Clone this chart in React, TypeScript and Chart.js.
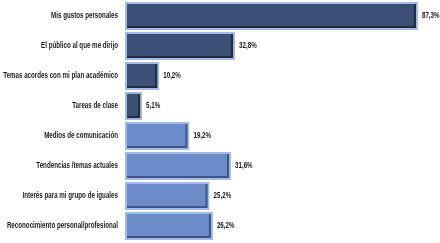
import React, { useEffect, useRef } from "react";
import { Chart, registerables } from "chart.js";

Chart.register(...registerables);

const categories = [
  "Mis gustos personales",
  "El público al que me dirijo",
  "Temas acordes con mi plan académico",
  "Tareas de clase",
  "Medios de comunicación",
  "Tendencias /temas actuales",
  "Interés para mi grupo de iguales",
  "Reconocimiento personal/profesional",
];
const values = [87.3, 32.8, 10.2, 5.1, 19.2, 31.6, 25.2, 26.2];
const barColors = ["#3c4f74", "#3c4f74", "#3c4f74", "#3c4f74", "#6b8cc9", "#6b8cc9", "#6b8cc9", "#6b8cc9"];
const shadeColors = ["#1f2c44", "#1f2c44", "#1f2c44", "#1f2c44", "#3d5587", "#3d5587", "#3d5587", "#3d5587"];
const borderColors = ["#a3bbe4", "#a3bbe4", "#a3bbe4", "#a3bbe4", "#a3bbe4", "#a3bbe4", "#a3bbe4", "#a3bbe4"];

const FONT = "'Liberation Sans', Arial, sans-serif";
const SQUEEZE = 0.69;

const labelPlugin = {
  id: "barLabels",
  afterDatasetsDraw(chart: any) {
    const ctx = chart.ctx;
    const meta = chart.getDatasetMeta(0);
    const yScale = chart.scales.y;
    ctx.save();
    // bevel shading inside each bar
    meta.data.forEach((el: any, i: number) => {
      const left = el.base;
      const right = el.x;
      const top = el.y - el.height / 2;
      const bottom = el.y + el.height / 2;
      ctx.strokeStyle = shadeColors[i];
      ctx.lineWidth = 2;
      ctx.beginPath();
      ctx.moveTo(left + 2, bottom - 3);
      ctx.lineTo(right - 3, bottom - 3);
      ctx.lineTo(right - 3, top + 2);
      ctx.stroke();
    });
    ctx.font = `bold 9px ${FONT}`;
    ctx.fillStyle = "#1a1a1a";
    ctx.textBaseline = "middle";
    // value labels
    ctx.textAlign = "left";
    meta.data.forEach((el: any, i: number) => {
      const v = values[i].toFixed(1).replace(".", ",") + "%";
      ctx.save();
      ctx.translate(el.x + 4, el.y);
      ctx.scale(SQUEEZE, 1);
      ctx.fillText(v, 0, 0);
      ctx.restore();
    });
    // category labels
    ctx.textAlign = "right";
    categories.forEach((c, i) => {
      const y = yScale.getPixelForValue(i);
      ctx.save();
      ctx.translate(chart.chartArea.left - 7, y);
      ctx.scale(SQUEEZE, 1);
      ctx.fillText(c, 0, 0);
      ctx.restore();
    });
    ctx.restore();
  },
};

export default function App() {
  const ref = useRef<HTMLCanvasElement>(null);
  useEffect(() => {
    document.body.style.margin = "0";
    const chart = new Chart(ref.current!, {
      type: "bar",
      data: {
        labels: categories,
        datasets: [
          {
            data: values,
            backgroundColor: barColors,
            borderColor: borderColors,
            borderWidth: 2,
            borderSkipped: false,
            barPercentage: 0.94,
            categoryPercentage: 1,
          },
        ],
      },
      options: {
        indexAxis: "y",
        responsive: false,
        animation: false,
        layout: { padding: { top: 1, bottom: 2, right: 13, left: 125 } },
        plugins: { legend: { display: false }, tooltip: { enabled: false } },
        scales: {
          x: { min: 0, max: 90, display: false },
          y: { display: false },
        },
      },
      plugins: [labelPlugin],
    });
    return () => chart.destroy();
  }, []);
  return (
    <div style={{ position: "absolute", left: 0, top: 0, width: 440, height: 243, background: "#fff" }}>
      <canvas ref={ref} width={440} height={243} />
    </div>
  );
}
